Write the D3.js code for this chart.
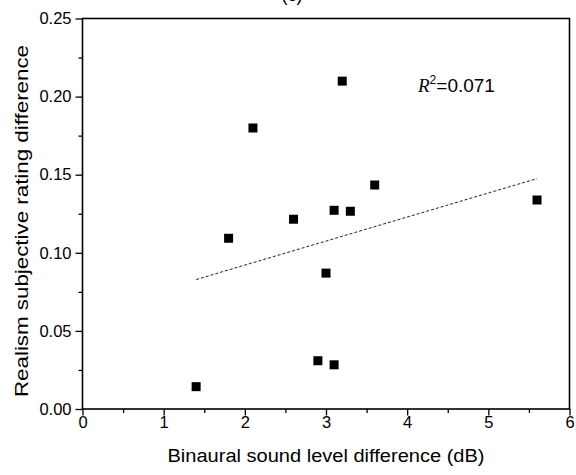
<!DOCTYPE html>
<html>
<head>
<meta charset="utf-8">
<script src="https://cdn.jsdelivr.net/npm/d3@7"></script>
<style>
	body { margin: 0; background: #fff; }
	text { font-family: "Liberation Sans", Arial, sans-serif; fill: #000; }
</style>
</head>
<body>
<div id="chart"></div>
<script>
// data
var levelDiff = [1.4, 1.8, 2.1, 2.6, 2.9, 3.0, 3.1, 3.1, 3.2, 3.3, 3.6, 5.6];
var realismDiff = [0.0143, 0.1093, 0.1799, 0.1215, 0.0309, 0.0870, 0.1272, 0.0283, 0.2099, 0.1266, 0.1434, 0.1338];

// linear fit end points as drawn
var fitX = [1.4, 5.6];
var fitY = [0.0829, 0.1475];

var xTicks = [0, 1, 2, 3, 4, 5, 6];
var yTicks = [0.00, 0.05, 0.10, 0.15, 0.20, 0.25];
var rSquared = "0.071";

var margin = {left: 82.5, right: 6.5, top: 18.5, bottom: 66};
var width = 576 - margin.left - margin.right,
	height = 475 - margin.top - margin.bottom;

var svg = d3.select("#chart")
	.append("svg")
		.attr("width", 576)
		.attr("height", 475);

var canvas = svg.append("g")
	.attr("transform", "translate(" + margin.left + ", " + margin.top + ")");

// scales
var x = d3.scaleLinear()
	.domain([0, 6])
	.range([0, width]);

var y = d3.scaleLinear()
	.domain([0, 0.25])
	.range([height, 0]);

// panel title, cut off at the top edge as in the source
svg.append("text")
	.attr("x", 292)
	.attr("y", 1)
	.attr("font-size", "18px")
	.attr("text-anchor", "middle")
	.text("(c)");

// minor ticks
var xMinor = d3.axisBottom(x)
	.tickValues(d3.range(0.5, 6, 1))
	.tickSize(4)
	.tickFormat("");
canvas.append("g")
	.attr("class", "x-minor")
	.attr("transform", "translate(0, " + height + ")")
	.call(xMinor);

var yMinor = d3.axisLeft(y)
	.tickValues(d3.range(0.025, 0.25, 0.05))
	.tickSize(4)
	.tickFormat("");
canvas.append("g")
	.attr("class", "y-minor")
	.call(yMinor);

// major axes
var xAxisCall = d3.axisBottom(x)
	.tickValues(xTicks)
	.tickSize(6.5)
	.tickPadding(0.5)
	.tickFormat(d3.format("d"));
canvas.append("g")
	.attr("class", "x-axis")
	.attr("transform", "translate(0, " + height + ")")
	.call(xAxisCall);

var yAxisCall = d3.axisLeft(y)
	.tickValues(yTicks)
	.tickSize(7)
	.tickPadding(4)
	.tickFormat(d3.format(".2f"));
canvas.append("g")
	.attr("class", "y-axis")
	.call(yAxisCall);

canvas.selectAll(".x-axis text, .y-axis text")
	.attr("font-size", "16.5px")
	.style("font-family", "'Liberation Sans', Arial, sans-serif");
canvas.selectAll(".domain").remove();
canvas.selectAll(".tick line")
	.attr("stroke", "#000")
	.attr("stroke-width", 1.3);

// frame
canvas.append("rect")
	.attr("x", 0)
	.attr("y", 0)
	.attr("width", width)
	.attr("height", height)
	.attr("fill", "none")
	.attr("stroke", "#000")
	.attr("stroke-width", 1.6);

// fit line
canvas.append("line")
	.attr("x1", x(fitX[0]))
	.attr("y1", y(fitY[0]))
	.attr("x2", x(fitX[1]))
	.attr("y2", y(fitY[1]))
	.attr("stroke", "#222")
	.attr("stroke-width", 1)
	.attr("stroke-dasharray", "3,2");

// points
var sq = 9;
canvas.selectAll("rect.pt")
	.data(levelDiff)
	.enter()
	.append("rect")
		.attr("class", "pt")
		.attr("x", function(d){ return x(d) - sq / 2 })
		.attr("y", function(d, i){ return y(realismDiff[i]) - sq / 2 })
		.attr("width", sq)
		.attr("height", sq)
		.attr("fill", "#000");

// R squared note
var note = canvas.append("text")
	.attr("x", 418 - margin.left)
	.attr("y", 92 - margin.top)
	.attr("font-size", "19px");
note.append("tspan")
	.style("font-family", "'Liberation Serif', 'Times New Roman', serif")
	.style("font-style", "italic")
	.text("R");
note.append("tspan")
	.attr("dy", -8)
	.attr("font-size", "12px")
	.text("2");
note.append("tspan")
	.attr("dy", 8)
	.text("=" + rSquared);

// x label
canvas.append("text")
	.attr("x", width / 2)
	.attr("y", 461.5 - margin.top)
	.attr("font-size", "18px")
	.attr("text-anchor", "middle")
	.attr("textLength", 317)
	.attr("lengthAdjust", "spacingAndGlyphs")
	.text("Binaural sound level difference (dB)");

// y label
canvas.append("text")
	.attr("x", -(221 - margin.top))
	.attr("y", 28 - margin.left)
	.attr("font-size", "19px")
	.attr("text-anchor", "middle")
	.attr("textLength", 352)
	.attr("lengthAdjust", "spacingAndGlyphs")
	.attr("transform", "rotate(-90)")
	.text("Realism subjective rating difference");
</script>
</body>
</html>
